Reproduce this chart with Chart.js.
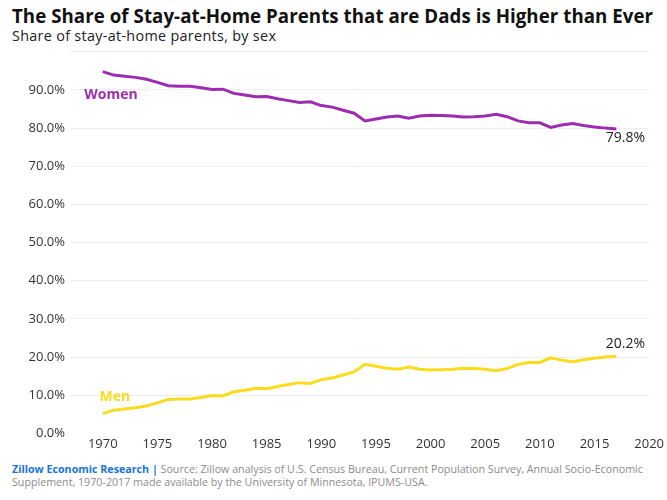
<!DOCTYPE html>
<html>
<head>
<meta charset="utf-8">
<script src="https://cdn.jsdelivr.net/npm/chart.js@4/dist/chart.umd.min.js"></script>
<style>
  html, body { margin: 0; padding: 0; background: #fff; }
  body { width: 667px; height: 500px; position: relative; overflow: hidden; font-family: "Open Sans", sans-serif; }
  #title { position: absolute; left: 12px; top: 3px; font-size: 18.7px; font-weight: 700; color: #111; white-space: nowrap; letter-spacing: 0.05px; }
  #subtitle { position: absolute; left: 12px; top: 26px; font-size: 14.4px; color: #222; white-space: nowrap; letter-spacing: 0.3px; }
  #wrap { position: absolute; left: 0; top: 39px; width: 667px; height: 416px; }
  #footer { position: absolute; left: 12px; top: 463px; font-size: 10.7px; line-height: 13px; color: #8c8c8c; }
  #footer b { color: #1a72dc; }
</style>
</head>
<body>
<div id="title">The Share of Stay-at-Home Parents that are Dads is Higher than Ever</div>
<div id="subtitle">Share of stay-at-home parents, by sex</div>
<div id="wrap"><canvas id="chart"></canvas></div>
<div id="footer"><b>Zillow Economic Research |</b> Source: Zillow analysis of U.S. Census Bureau, Current Population Survey, Annual Socio-Economic<br>Supplement, 1970-2017 made available by the University of Minnesota, IPUMS-USA.</div>
<script>
// years 1970-2017
const years = [
  1970, 1971, 1972, 1973, 1974, 1975, 1976, 1977, 1978, 1979,
  1980, 1981, 1982, 1983, 1984, 1985, 1986, 1987, 1988, 1989,
  1990, 1991, 1992, 1993, 1994, 1995, 1996, 1997, 1998, 1999,
  2000, 2001, 2002, 2003, 2004, 2005, 2006, 2007, 2008, 2009,
  2010, 2011, 2012, 2013, 2014, 2015, 2016, 2017
];
const women = [
  94.8, 93.9, 93.6, 93.3, 92.8, 92.0, 91.1, 91.0, 91.0, 90.6,
  90.1, 90.2, 89.1, 88.7, 88.2, 88.3, 87.7, 87.2, 86.7, 86.9,
  85.9, 85.5, 84.7, 83.9, 81.9, 82.4, 82.9, 83.2, 82.6, 83.2,
  83.4, 83.3, 83.2, 82.9, 83.0, 83.2, 83.6, 83.0, 81.9, 81.4,
  81.4, 80.2, 80.8, 81.2, 80.7, 80.3, 80.0, 79.8
];
const men = [
  5.2, 6.1, 6.4, 6.7, 7.2, 8.0, 8.9, 9.0, 9.0, 9.4,
  9.9, 9.8, 10.9, 11.3, 11.8, 11.7, 12.3, 12.8, 13.3, 13.1,
  14.1, 14.5, 15.3, 16.1, 18.1, 17.6, 17.1, 16.8, 17.4, 16.8,
  16.6, 16.7, 16.8, 17.1, 17.0, 16.8, 16.4, 17.0, 18.1, 18.6,
  18.6, 19.8, 19.2, 18.8, 19.3, 19.7, 20.0, 20.2
];
const xTicks = [1970, 1975, 1980, 1985, 1990, 1995, 2000, 2005, 2010, 2015, 2020];
const seriesNames = ['Women', 'Men'];
const seriesColors = ['#9c2db0', '#fbdc1c'];

const pts = arr => arr.map((v, i) => ({ x: years[i], y: v }));

// series name labels + end value labels
const labelPlugin = {
  id: 'seriesLabels',
  afterDatasetsDraw(chart) {
    const { ctx, scales: { x, y } } = chart;
    ctx.save();
    ctx.textBaseline = 'middle';
    ctx.textAlign = 'left';
    ctx.font = 'bold 14px "Open Sans", sans-serif';
    ctx.fillStyle = seriesColors[0];
    ctx.fillText(seriesNames[0], x.getPixelForValue(1968.3), y.getPixelForValue(88.6));
    ctx.fillStyle = seriesColors[1];
    ctx.fillText(seriesNames[1], x.getPixelForValue(1969.7), y.getPixelForValue(9.6));

    ctx.font = '14px "Open Sans", sans-serif';
    ctx.fillStyle = '#222';
    ctx.textAlign = 'center';
    const last = years.length - 1;
    const lx = x.getPixelForValue(years[last]) + 9;
    ctx.fillText(women[last].toFixed(1) + '%', lx, y.getPixelForValue(women[last]) + 9);
    ctx.fillText(men[last].toFixed(1) + '%', lx, y.getPixelForValue(men[last]) - 12);
    ctx.restore();
  }
};

new Chart(document.getElementById('chart'), {
  type: 'line',
  data: {
    datasets: [
      { label: seriesNames[0], data: pts(women), borderColor: seriesColors[0], borderWidth: 3, pointRadius: 0, tension: 0 },
      { label: seriesNames[1], data: pts(men), borderColor: seriesColors[1], borderWidth: 3, pointRadius: 0, tension: 0 }
    ]
  },
  options: {
    responsive: true,
    maintainAspectRatio: false,
    animation: false,
    layout: { padding: { top: 0, right: 0, left: 0, bottom: 0 } },
    plugins: { legend: { display: false }, tooltip: { enabled: false } },
    scales: {
      x: {
        type: 'linear',
        min: 1967,
        max: 2020,
        border: { display: false },
        grid: { display: false, drawTicks: false },
        afterBuildTicks: scale => { scale.ticks = xTicks.map(v => ({ value: v })); },
        ticks: {
          autoSkip: false,
          maxRotation: 0,
          padding: 3,
          color: '#333',
          font: { family: '"Open Sans", sans-serif', size: 13 },
          callback: v => String(v)
        }
      },
      y: {
        min: 0,
        max: 100,
        border: { display: false },
        grid: {
          drawTicks: false,
          color: ctx => (ctx.tick && ctx.tick.value === 0 ? 'rgba(0,0,0,0)' : '#eeeeee')
        },
        afterFit: scale => { scale.width = 70; },
        ticks: {
          stepSize: 10,
          padding: 5,
          color: '#333',
          font: { family: '"Open Sans", sans-serif', size: 13 },
          callback: v => (v === 100 ? '' : v.toFixed(1) + '%')
        }
      }
    }
  },
  plugins: [labelPlugin]
});
</script>
</body>
</html>
